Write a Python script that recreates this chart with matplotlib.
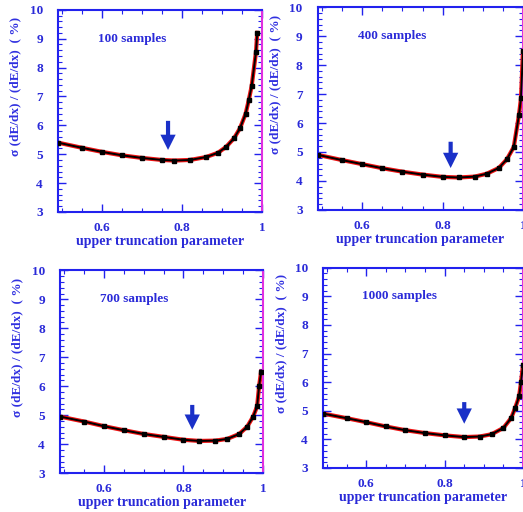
import matplotlib.pyplot as plt
from matplotlib.ticker import MultipleLocator, FixedLocator

# upper truncation parameter vs relative dE/dx resolution (%)
x100 = [0.49, 0.55, 0.60, 0.65, 0.70, 0.75, 0.78, 0.82, 0.86, 0.89, 0.91, 0.93, 0.945, 0.959, 0.967, 0.974, 0.985, 0.988]
y100 = [5.40, 5.22, 5.08, 4.96, 4.87, 4.80, 4.78, 4.80, 4.90, 5.05, 5.25, 5.55, 5.90, 6.40, 6.88, 7.35, 8.55, 9.20]

x400 = [0.49, 0.55, 0.60, 0.65, 0.70, 0.75, 0.80, 0.84, 0.88, 0.91, 0.94, 0.96, 0.977, 0.990, 0.995, 1.0]
y400 = [4.90, 4.72, 4.58, 4.44, 4.32, 4.22, 4.14, 4.12, 4.15, 4.25, 4.45, 4.75, 5.17, 6.28, 6.86, 8.50]

x700 = [0.49, 0.55, 0.60, 0.65, 0.70, 0.75, 0.80, 0.84, 0.88, 0.91, 0.94, 0.96, 0.975, 0.985, 0.990, 0.995]
y700 = [4.95, 4.78, 4.62, 4.48, 4.35, 4.25, 4.15, 4.11, 4.12, 4.18, 4.35, 4.60, 4.95, 5.30, 6.00, 6.50]

x1000 = [0.49, 0.55, 0.60, 0.65, 0.70, 0.75, 0.80, 0.85, 0.89, 0.92, 0.95, 0.97, 0.98, 0.99, 0.995, 1.0]
y1000 = [4.90, 4.74, 4.60, 4.45, 4.32, 4.22, 4.14, 4.08, 4.10, 4.18, 4.40, 4.75, 5.10, 5.50, 6.00, 6.60]

labels = ['100 samples', '400 samples', '700 samples', '1000 samples']
arrow_x = [0.765, 0.82, 0.822, 0.85]
arrow_top = [6.25, 5.45, 5.45, 5.40]
arrow_tip = [5.05, 4.35, 4.40, 4.45]

panels = [(x100, y100), (x400, y400), (x700, y700), (x1000, y1000)]
rects = [[0.111, 0.586, 0.390, 0.395],
         [0.608, 0.590, 0.392, 0.396],
         [0.115, 0.076, 0.388, 0.396],
         [0.618, 0.086, 0.382, 0.391]]

blue = '#2222ee'
text_col = '#2a2ad8'
serif = ['Liberation Serif', 'DejaVu Serif']

fig = plt.figure(figsize=(5.23, 5.12), dpi=100)

for i, ((xs, ys), rect) in enumerate(zip(panels, rects)):
    ax = fig.add_axes(rect)
    ax.plot(xs, ys, color='#ee1111', lw=3.0, zorder=2)
    ax.plot(xs, ys, color='black', lw=1.4, marker='s', ms=2.2, zorder=3)
    ax.annotate('', xy=(arrow_x[i], arrow_tip[i]), xytext=(arrow_x[i], arrow_top[i]),
                arrowprops=dict(arrowstyle='simple,head_width=1.1,head_length=1.1,tail_width=0.3',
                                color='#1a30c8', lw=0))
    ax.text(0.59, 9.0, labels[i], color=text_col, fontsize=9.5, fontweight='bold',
            family=serif, va='center')

    ax.set_xlim(0.49, 1.0)
    ax.set_ylim(3, 10)
    ax.xaxis.set_major_locator(FixedLocator([0.6, 0.8, 1.0]))
    ax.set_xticklabels(['0.6', '0.8', '1'])
    ax.xaxis.set_minor_locator(MultipleLocator(0.05))
    ax.yaxis.set_major_locator(MultipleLocator(1))
    ax.yaxis.set_minor_locator(MultipleLocator(0.2))
    ax.tick_params(which='both', direction='in', top=True, right=True, color=blue,
                   labelcolor=text_col, labelsize=9.5)
    ax.tick_params(which='major', length=6, width=1)
    ax.tick_params(which='minor', length=3, width=0.8)
    ax.tick_params(axis='x', which='major', pad=7)
    ax.tick_params(axis='y', which='major', pad=11)
    for lab in ax.get_xticklabels() + ax.get_yticklabels():
        lab.set_family(serif)
        lab.set_fontweight('bold')
    for sp in ax.spines.values():
        sp.set_color(blue)
        sp.set_linewidth(1.5)
    ax.spines['right'].set_color('#e030e0')

    ax.set_xlabel('upper truncation parameter', color=text_col, fontsize=10,
                  fontweight='bold', family=serif, labelpad=1)
    ax.set_ylabel('σ (dE/dx) / (dE/dx)  ( %)', color='#3030e0', fontsize=9.5,
                  fontweight='bold', family=serif)
    ax.yaxis.set_label_coords(-0.18, 0.62)

fig.savefig('out.png', dpi=100)
